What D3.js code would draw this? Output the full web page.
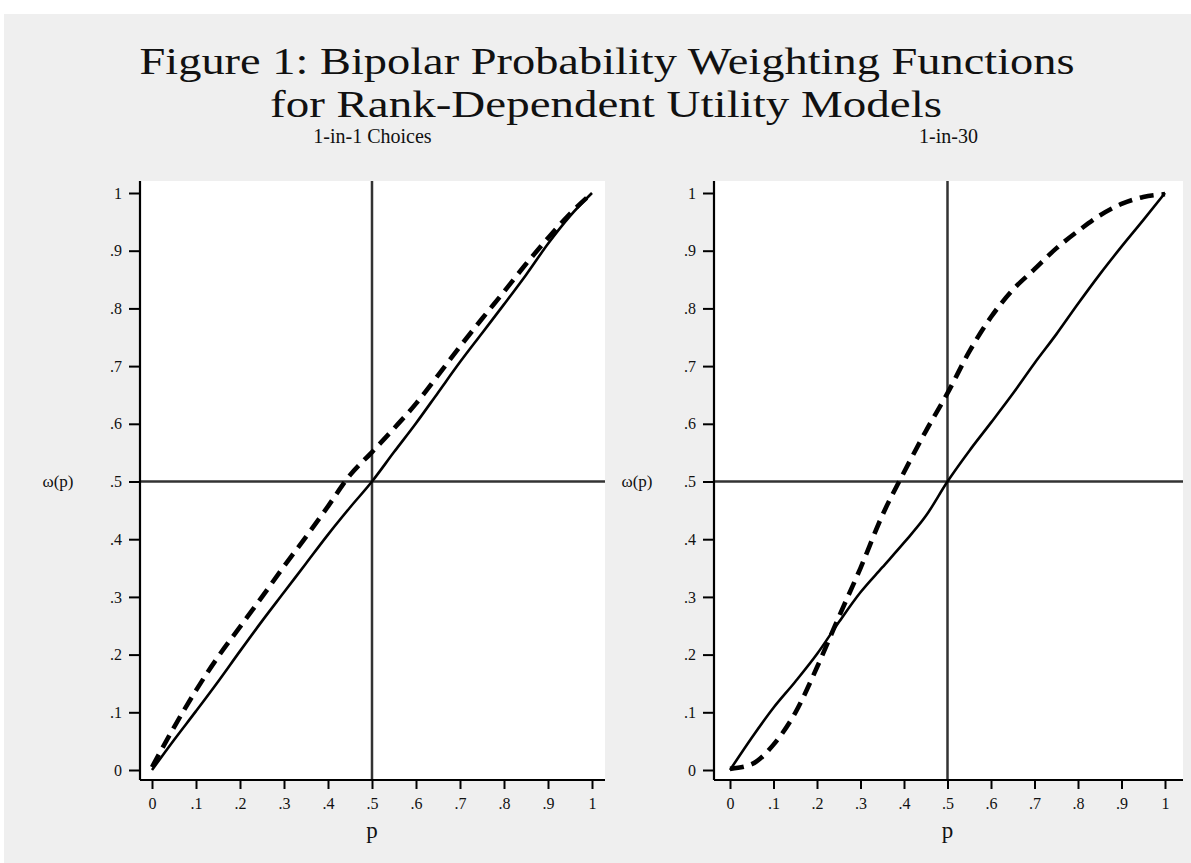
<!DOCTYPE html>
<html>
<head>
<meta charset="utf-8">
<script src="https://cdn.jsdelivr.net/npm/d3@7"></script>
<style>
  body { margin: 0; background: #ffffff; }
  svg text { font-family: "Liberation Serif", "DejaVu Serif", serif; fill: #111; }
</style>
</head>
<body>
<div id="chart"></div>
<script>
// probability grid shared by every curve
const pGrid = [0, .05, .1, .15, .2, .25, .3, .35, .4, .45, .5, .55, .6, .65, .7, .75, .8, .85, .9, .95, 1];

// 1-in-1 choices
const oneInOneSolid = [0, .052, .102, .153, .206, .258, .308, .358, .408, .455, .5, .551, .601, .654, .707, .757, .807, .858, .912, .96, 1];
const oneInOneDashed = [.005, .074, .138, .196, .248, .3, .353, .404, .457, .511, .551, .592, .635, .684, .734, .782, .829, .877, .922, .964, 1];

// 1-in-30
const oneInThirtySolid = [0, .056, .108, .153, .201, .256, .308, .351, .394, .44, .5, .553, .602, .652, .705, .755, .808, .859, .907, .953, 1];
const oneInThirtyDashed = [.002, .01, .044, .099, .178, .265, .35, .441, .516, .587, .653, .725, .785, .832, .868, .904, .934, .961, .981, .993, .998];

const tickValues = [0, .1, .2, .3, .4, .5, .6, .7, .8, .9, 1];
const tickLabels = ["0", ".1", ".2", ".3", ".4", ".5", ".6", ".7", ".8", ".9", "1"];

const titleLines = ["Figure 1: Bipolar Probability Weighting Functions", "for Rank-Dependent Utility Models"];
const panelTitles = ["1-in-1 Choices", "1-in-30"];

const width = 1191, height = 863;

const svg = d3.select("#chart")
  .append("svg")
  .attr("width", width)
  .attr("height", height);

// gray graph region
svg.append("rect")
  .attr("x", 4).attr("y", 14)
  .attr("width", width - 4).attr("height", height - 14)
  .attr("fill", "#efefef");

// title
svg.append("text")
  .attr("x", 607).attr("y", 74)
  .attr("text-anchor", "middle")
  .attr("font-size", 37)
  .attr("textLength", 935)
  .attr("lengthAdjust", "spacingAndGlyphs")
  .text(titleLines[0]);
svg.append("text")
  .attr("x", 606).attr("y", 117)
  .attr("text-anchor", "middle")
  .attr("font-size", 37)
  .attr("textLength", 672)
  .attr("lengthAdjust", "spacingAndGlyphs")
  .text(titleLines[1]);

const panels = [
  { left: 140, right: 605, x0: 152, x1: 592, solid: oneInOneSolid, dashed: oneInOneDashed, title: panelTitles[0], wLabelX: 58 },
  { left: 714, right: 1183, x0: 730, x1: 1165, solid: oneInThirtySolid, dashed: oneInThirtyDashed, title: panelTitles[1], wLabelX: 637 },
];

const plotTop = 181, plotBottom = 780;

panels.forEach((pn) => {
  const x = d3.scaleLinear().domain([0, 1]).range([pn.x0, pn.x1]);
  const y = d3.scaleLinear().domain([0, 1]).range([770, 193]);

  const g = svg.append("g");

  // plot region
  g.append("rect")
    .attr("x", pn.left).attr("y", plotTop)
    .attr("width", pn.right - pn.left).attr("height", plotBottom - plotTop)
    .attr("fill", "#ffffff");

  // reference lines at .5
  g.append("line")
    .attr("x1", pn.left).attr("x2", pn.right)
    .attr("y1", y(.5)).attr("y2", y(.5))
    .attr("stroke", "#333").attr("stroke-width", 2.5);
  g.append("line")
    .attr("x1", x(.5)).attr("x2", x(.5))
    .attr("y1", plotTop).attr("y2", plotBottom)
    .attr("stroke", "#333").attr("stroke-width", 2.5);

  const line = d3.line()
    .x((d, i) => x(pGrid[i]))
    .y((d) => y(d))
    .curve(d3.curveMonotoneX);

  g.append("path")
    .attr("d", line(pn.solid))
    .attr("fill", "none")
    .attr("stroke", "#000")
    .attr("stroke-width", 2.6)
    .attr("stroke-linejoin", "round");

  g.append("path")
    .attr("d", line(pn.dashed))
    .attr("fill", "none")
    .attr("stroke", "#000")
    .attr("stroke-width", 4.6)
    .attr("stroke-dasharray", "14,8");

  // axes
  const xAxis = d3.axisBottom(x)
    .tickValues(tickValues)
    .tickSize(9)
    .tickPadding(9)
    .tickFormat((d, i) => tickLabels[i]);
  const ax = g.append("g")
    .attr("transform", `translate(0,${plotBottom})`)
    .call(xAxis);
  ax.select(".domain").attr("d", `M${pn.left},0H${pn.right}`);

  const yAxis = d3.axisLeft(y)
    .tickValues(tickValues)
    .tickSize(11)
    .tickPadding(7)
    .tickFormat((d, i) => tickLabels[i]);
  const ay = g.append("g")
    .attr("transform", `translate(${pn.left},0)`)
    .call(yAxis);
  ay.select(".domain").attr("d", `M0,${plotTop}V${plotBottom}`);

  [ax, ay].forEach((a) => {
    a.select(".domain").attr("stroke", "#000").attr("stroke-width", 2.2);
    a.selectAll(".tick line").attr("stroke", "#000").attr("stroke-width", 2);
    a.selectAll(".tick text")
      .attr("font-family", "Liberation Serif, serif")
      .attr("font-size", 16)
      .attr("fill", "#222");
  });

  // labels
  g.append("text")
    .attr("x", (pn.left + pn.right) / 2).attr("y", 143)
    .attr("text-anchor", "middle")
    .attr("font-size", 20)
    .text(pn.title);
  g.append("text")
    .attr("x", x(.5)).attr("y", 838)
    .attr("text-anchor", "middle")
    .attr("font-size", 23)
    .text("p");
  g.append("text")
    .attr("x", pn.wLabelX).attr("y", 487)
    .attr("text-anchor", "middle")
    .attr("font-size", 17)
    .text("ω(p)");
});
</script>
</body>
</html>
